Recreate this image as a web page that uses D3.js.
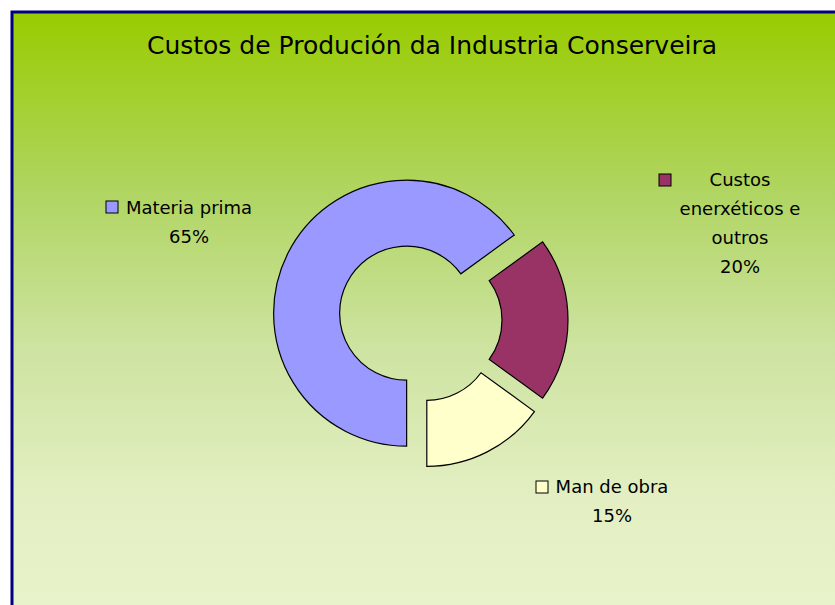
<!DOCTYPE html>
<html>
<head>
<meta charset="utf-8">
<script src="https://cdn.jsdelivr.net/npm/d3@7"></script>
<style>
  body { margin: 0; background: #fff; }
  text { font-family: "DejaVu Sans", sans-serif; fill: #000; }
</style>
</head>
<body>
<svg id="chart" width="835" height="605"></svg>
<script>
// data
let categories = ["Materia prima", "Custos enerxéticos e outros", "Man de obra"];
let values = [65, 20, 15];
let percentLabels = ["65%", "20%", "15%"];
let labelLines = [["Materia prima"], ["Custos", "enerxéticos e", "outros"], ["Man de obra"]];
let colors = ["#9999ff", "#993366", "#ffffcc"];

let width = 835;
let height = 605;
let center = {x: 420, y: 320};
let outer_r = 133;
let inner_r = 67;
let explode = 15;

let svg = d3.select("#chart");

// background gradient
let defs = svg.append("defs");
let grad = defs.append("linearGradient")
    .attr("id", "bg")
    .attr("x1", 0).attr("y1", 0).attr("x2", 0).attr("y2", 1);
let stops = [[0, "#99cc00"], [0.3, "#b0d562"], [0.55, "#cde3a0"], [0.8, "#e3efc2"], [1, "#e9f3cc"]];
grad.selectAll("stop")
  .data(stops)
  .enter().append("stop")
    .attr("offset", function(d) { return d[0]; })
    .attr("stop-color", function(d) { return d[1]; });

svg.append("rect")
    .attr("x", 12)
    .attr("y", 12)
    .attr("width", width)
    .attr("height", height)
    .attr("fill", "url(#bg)")
    .attr("stroke", "#000080")
    .attr("stroke-width", 3);

// title
svg.append("text")
    .attr("x", 432)
    .attr("y", 54)
    .attr("text-anchor", "middle")
    .style("font-size", "25px")
    .text("Custos de Produción da Industria Conserveira");

// doughnut
let pie = d3.pie()
    .sort(null)
    .startAngle(Math.PI)
    .endAngle(3 * Math.PI);

let arc = d3.arc()
    .innerRadius(inner_r)
    .outerRadius(outer_r);

let arcs = pie(values);

let g = svg.append("g")
    .attr("transform", "translate(" + center.x + "," + center.y + ")");

g.selectAll("path.slice")
  .data(arcs)
  .enter().append("path")
    .classed("slice", true)
    .attr("transform", function(d) {
        let mid = (d.startAngle + d.endAngle) / 2;
        return "translate(" + (Math.sin(mid) * explode) + "," + (-Math.cos(mid) * explode) + ")";
    })
    .attr("d", arc)
    .attr("fill", function(d, i) { return colors[i]; })
    .attr("stroke", "#000")
    .attr("stroke-width", 1.2);

// data labels (legend key + category + percent)
let labelPos = [
    {x: 189, y: 214, key: [106, 201]},
    {x: 740, y: 186, key: [659, 174]},
    {x: 612, y: 493, key: [536, 481]}
];
let lineH = 29;

categories.forEach(function(c, i) {
    let p = labelPos[i];
    let lab = svg.append("g").attr("class", "label");
    lab.append("rect")
        .attr("x", p.key[0])
        .attr("y", p.key[1])
        .attr("width", 12)
        .attr("height", 12)
        .attr("fill", colors[i])
        .attr("stroke", "#000")
        .attr("stroke-width", 1);
    let lines = labelLines[i].concat([percentLabels[i]]);
    lab.selectAll("text")
      .data(lines)
      .enter().append("text")
        .attr("x", p.x)
        .attr("y", function(d, j) { return p.y + j * lineH; })
        .attr("text-anchor", "middle")
        .style("font-size", "18px")
        .text(function(d) { return d; });
});
</script>
</body>
</html>
